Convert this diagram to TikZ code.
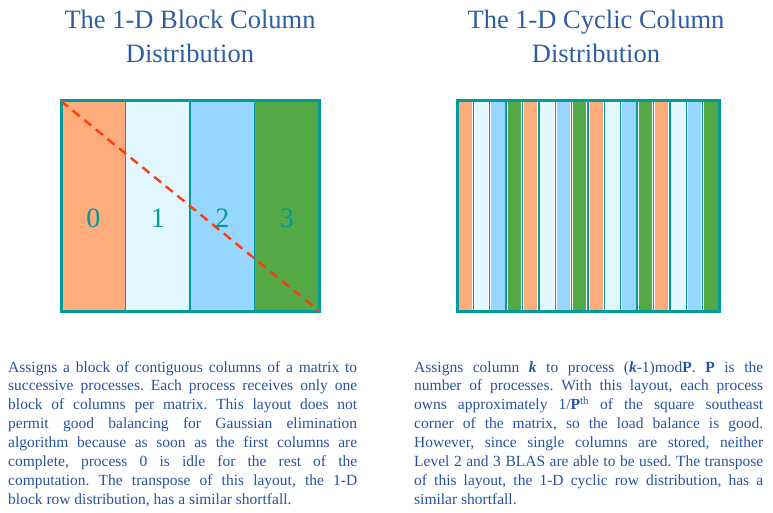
\documentclass[tikz,border=0pt]{standalone}
\usepackage{fontspec}
\setmainfont{Liberation Serif}
\definecolor{tealz}{RGB}{0,155,155}
\definecolor{colA}{RGB}{255,172,125}
\definecolor{colB}{RGB}{226,247,255}
\definecolor{colC}{RGB}{150,214,255}
\definecolor{colD}{RGB}{85,168,70}
\definecolor{diagred}{RGB}{255,60,10}
\definecolor{titleblue}{RGB}{46,94,160}
\definecolor{bodyblue}{RGB}{40,82,160}
\begin{document}
\begin{tikzpicture}[x=1pt,y=-1pt,
  frame/.style={draw=tealz, line width=3pt},
  divider/.style={draw=tealz, line width=1.3pt},
  gap/.style={draw=white, line width=3.2pt},
  diag/.style={draw=diagred, line width=2.4pt, dash pattern=on 9pt off 6pt},
  title/.style={text=titleblue, font=\fontsize{26.5}{30}\selectfont, anchor=base, inner sep=0pt},
  digit/.style={text=tealz, font=\fontsize{28}{30}\selectfont, inner sep=0pt},
  body/.style={text=bodyblue, font=\fontsize{15.5}{18.9}\selectfont, anchor=base west, inner sep=0pt,
    text width=349pt, align=justify, execute at begin node={\frenchspacing\tolerance=10000\hyphenpenalty=10000}}]
\useasboundingbox (0,0) rectangle (773,513);
% titles
\node[title] (t1a) at (190,29) {The 1-D Block Column};
\node[title] (t1b) at (190,63) {Distribution};
\node[title] (t2a) at (596,29) {The 1-D Cyclic Column};
\node[title] (t2b) at (596,63) {Distribution};
% left block layout
\coordinate (LTL) at (61,101);
\coordinate (LBR) at (319,311);
\foreach \i/\c in {0/colA,1/colB,2/colC,3/colD}{
  \fill[\c] ({61+64.5*\i},101) rectangle ({61+64.5*(\i+1)},311);
}
\foreach \i in {1,2,3}{
  \draw[divider] ({61+64.5*\i},101) -- ({61+64.5*\i},311);
}
\draw[frame] (LTL) rectangle (LBR);
\draw[diag] (LTL) -- (LBR);
\foreach \i in {0,1,2,3}{
  \node[digit] (d\i) at ({61+64.5*\i+32.25},218) {\i};
}
% right cyclic layout
\coordinate (RTL) at (457,101);
\coordinate (RBR) at (719,311);
\foreach \i in {0,...,15}{
  \pgfmathsetmacro{\k}{mod(\i,4)}
  \ifcase\k\relax \def\cc{colA}\or \def\cc{colB}\or \def\cc{colC}\or \def\cc{colD}\fi
  \fill[\cc] ({457+16.375*\i},101) rectangle ({457+16.375*(\i+1)},311);
}
\foreach \i in {1,...,15}{
  \draw[gap] ({457+16.375*\i},101) -- ({457+16.375*\i},311);
  \draw[divider] ({457+16.375*\i},101) -- ({457+16.375*\i},311);
}
\draw[frame] (RTL) rectangle (RBR);
% texts
\node[body] (p1) at (8,372) {Assigns a block of contiguous columns of a matrix to\linebreak
successive processes. Each process receives only one\linebreak
block of columns per matrix. This layout does not\linebreak
permit good balancing for Gaussian elimination\linebreak
algorithm because as soon as the first columns are\linebreak
complete, process 0 is idle for the rest of the\linebreak
computation. The transpose of this layout, the 1-D\linebreak
block row distribution, has a similar shortfall.};
\node[body] (p2) at (414,372) {Assigns column \textbf{\textit{k}} to process (\textbf{\textit{k}}-1)mod\textbf{P}. \textbf{P} is the\linebreak
number of processes. With this layout, each process\linebreak
owns approximately 1/\textbf{P}\textsuperscript{th} of the square southeast\linebreak
corner of the matrix, so the load balance is good.\linebreak
However, since single columns are stored, neither\linebreak
Level 2 and 3 BLAS are able to be used. The transpose\linebreak
of this layout, the 1-D cyclic row distribution, has a\linebreak
similar shortfall.};
\end{tikzpicture}
\end{document}
